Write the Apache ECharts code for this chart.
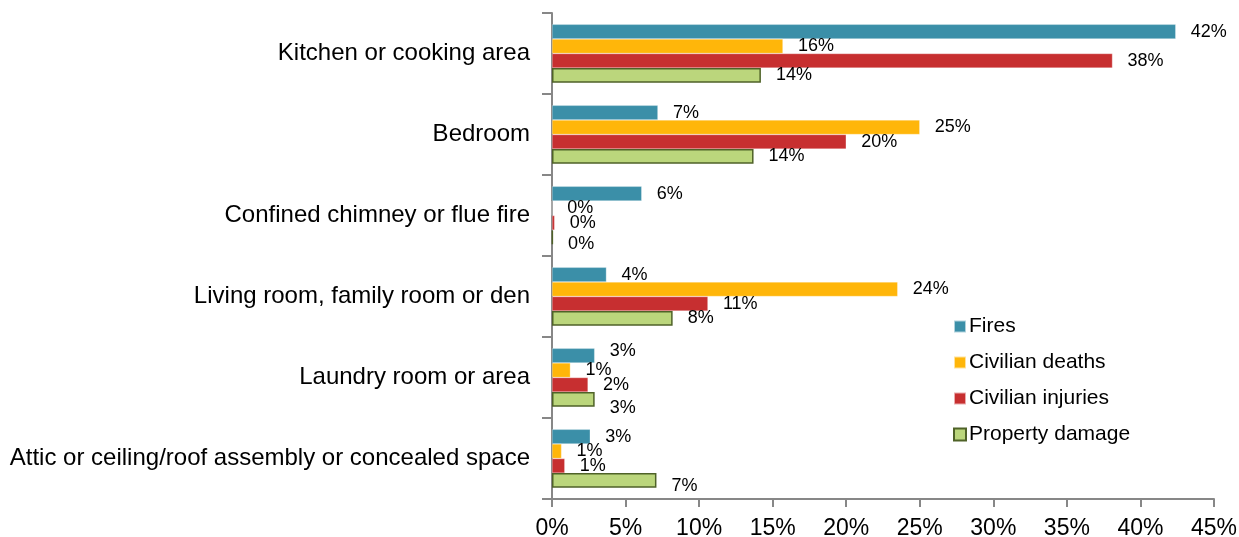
<!DOCTYPE html>
<html>
<head>
<meta charset="utf-8">
<script src="https://cdn.jsdelivr.net/npm/echarts@6/dist/echarts.min.js"></script>
<style>
  html, body { margin: 0; padding: 0; background: #fff; }
  #chart { width: 1239px; height: 537px; }
</style>
</head>
<body>
<div id="chart"></div>
<script>
// room categories, top to bottom
var rooms = [
	'Kitchen or cooking area',
	'Bedroom',
	'Confined chimney or flue fire',
	'Living room, family room or den',
	'Laundry room or area',
	'Attic or ceiling/roof assembly or concealed space'
];

// percent shares
var fires            = [42.4, 7.2, 6.1, 3.7, 2.9, 2.6];
var civilianDeaths   = [15.7, 25.0, 0, 23.5, 1.25, 0.65];
var civilianInjuries = [38.1, 20.0, 0.18, 10.6, 2.45, 0.87];
var propertyDamage   = [14.2, 13.7, 0.05, 8.2, 2.9, 7.1];

var seriesNames = ['Fires', 'Civilian deaths', 'Civilian injuries', 'Property damage'];
var xTicks = [0, 5, 10, 15, 20, 25, 30, 35, 40, 45];

var AXIS_GRAY = '#878787';
var FONT = 'Liberation Sans, Arial, sans-serif';

// a few labels were nudged by hand in the original (series index -> category index -> dy)
var labelNudge = { 0: { 4: -5 }, 3: { 2: 7, 4: 9, 5: 6 } };

function makeSeries(idx, values, color, border)
{
	var data = [];
	for( var i = 0 ; i < values.length ; i++ )
	{
		var item = { value: values[i] };
		if( labelNudge[idx] && labelNudge[idx][i] )
		{
			item.label = { offset: [0, labelNudge[idx][i]] };
		}
		data.push(item);
	}
	return {
		name: seriesNames[idx],
		type: 'bar',
		data: data,
		barGap: '0%',
		barCategoryGap: '28%',
		itemStyle: {
			color: color,
			borderColor: border || 'rgba(255,255,255,0.6)',
			borderWidth: border ? 1.5 : 0.5
		},
		label: {
			show: true,
			position: 'right',
			distance: 15,
			color: '#000',
			fontSize: 18,
			fontFamily: FONT,
			formatter: function (p) { return Math.round(p.value) + '%'; }
		}
	};
}

var myChart = echarts.init(document.getElementById('chart'));
var option = {
	backgroundColor: '#fff',
	animation: false,
	textStyle: { fontFamily: FONT },
	grid: { left: 552, right: 25, top: 13, bottom: 38, containLabel: false, outerBoundsMode: 'none' },
	legend: {
		orient: 'vertical',
		left: 948,
		top: 311,
		icon: 'rect',
		itemWidth: 12,
		itemHeight: 12,
		itemGap: 15,
		textStyle: { fontSize: 21, color: '#000', fontFamily: FONT, padding: [0, 0, 0, -2] },
		data: seriesNames
	},
	xAxis: {
		type: 'value',
		min: xTicks[0],
		max: xTicks[xTicks.length - 1],
		interval: 5,
		splitLine: { show: false },
		axisLine: { show: true, lineStyle: { color: AXIS_GRAY, width: 2 } },
		axisTick: { show: true, length: 8, lineStyle: { color: AXIS_GRAY, width: 2 } },
		axisLabel: {
			fontSize: 23,
			color: '#000',
			margin: 18,
			fontFamily: FONT,
			formatter: '{value}%'
		}
	},
	yAxis: {
		type: 'category',
		inverse: true,
		data: rooms,
		axisLine: { show: true, lineStyle: { color: AXIS_GRAY, width: 2 } },
		axisTick: { show: true, length: 10, lineStyle: { color: AXIS_GRAY, width: 2 } },
		axisLabel: { fontSize: 24, color: '#000', margin: 22, fontFamily: FONT }
	},
	series: [
		makeSeries(0, fires, '#3b8fa8'),
		makeSeries(1, civilianDeaths, '#ffb60a'),
		makeSeries(2, civilianInjuries, '#c72f30'),
		makeSeries(3, propertyDamage, '#bbd67c', '#4f6228')
	]
};
myChart.setOption(option);
</script>
</body>
</html>
